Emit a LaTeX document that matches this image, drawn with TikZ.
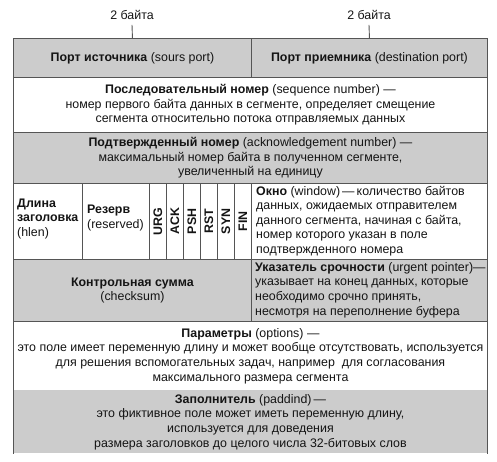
\documentclass[tikz,border=0pt]{standalone}
\usepackage{fontspec}
\setmainfont{Liberation Sans}
\definecolor{cellgray}{RGB}{204,204,204}
\definecolor{rule}{RGB}{85,85,85}
\definecolor{ink}{RGB}{20,20,20}
\begin{document}
\begin{tikzpicture}[x=1pt,y=-1pt,
  txt/.style={font=\fontsize{12.4}{14.6}\selectfont, text=ink},
  cell/.style={txt, draw=rule, line width=0.9pt, anchor=north west, inner sep=0pt, align=center},
  shaded/.style={fill=cellgray},
  lefttxt/.style={txt, anchor=west, align=left, inner sep=0pt},
  flagtxt/.style={txt, font=\fontsize{12.4}{14.6}\selectfont\bfseries, rotate=90, inner sep=0pt},
  byteslbl/.style={txt, inner sep=0pt}
]
\useasboundingbox (0,0) rectangle (497,462);

% row 1: ports
\node[cell, shaded, minimum width=238, minimum height=39] (src) at (13,38)
  {\textbf{Порт источника} (sours port)};
\node[cell, shaded, minimum width=236, minimum height=39] (dst) at (251,38)
  {\textbf{Порт приемника} (destination port)};

% row 2: sequence number
\node[cell, minimum width=474, minimum height=55] (seq) at (13,77)
  {\textbf{Последовательный номер} (sequence number) —\\
   номер первого байта данных в сегменте, определяет смещение\\
   сегмента относительно потока отправляемых данных};

% row 3: acknowledgement number
\node[cell, shaded, minimum width=474, minimum height=51] (ack) at (13,132)
  {\textbf{Подтвержденный номер} (acknowledgement number) —\\
   максимальный номер байта в полученном сегменте,\\
   увеличенный на единицу};

% row 4: header length, reserved bits, flags, window
\node[cell, minimum width=69, minimum height=76] (hlen) at (13,183) {};
\node[lefttxt] (hlentxt) at (17,219)
  {\textbf{Длина}\\ \textbf{заголовка}\\ (hlen)};
\node[cell, minimum width=67, minimum height=76] (resv) at (82,183) {};
\node[lefttxt] (resvtxt) at (87,218)
  {\textbf{Резерв}\\ (reserved)};
\foreach \f [count=\i from 0] in {URG,ACK,PSH,RST,SYN,FIN}{
  \node[cell, minimum width=17, minimum height=76] (flag\i) at ({149+17*\i},183) {};
  \node[flagtxt] (flagtxt\i) at (flag\i.center) {\f};
}
\node[cell, minimum width=236, minimum height=76] (win) at (251,183) {};
\node[lefttxt] (wintxt) at (256,221)
  {\textbf{Окно} (window)\,—\,количество байтов\\
   данных, ожидаемых отправителем\\
   данного сегмента, начиная с байта,\\
   номер которого указан в поле\\
   подтвержденного номера};

% row 5: checksum and urgent pointer
\node[cell, shaded, minimum width=238, minimum height=62] (csum) at (13,259)
  {\textbf{Контрольная сумма}\\ (checksum)};
\node[cell, shaded, minimum width=236, minimum height=62] (urg) at (251,259) {};
\node[lefttxt] (urgtxt) at (255,290)
  {\textbf{Указатель срочности} (urgent pointer)—\\
   указывает на конец данных, которые\\
   необходимо срочно принять,\\
   несмотря на переполнение буфера};

% row 6: options
\node[cell, minimum width=474, minimum height=69] (opt) at (13,321)
  {\textbf{Параметры} (options) —\\
   это поле имеет переменную длину и может вообще отсутствовать, используется\\
   для решения вспомогательных задач, например\ \ для согласования\\
   максимального размера сегмента};

% row 7: padding (open at the bottom)
\node[cell, shaded, draw=none, minimum width=474, minimum height=63] (pad) at (13,390)
  {\textbf{Заполнитель} (paddind)\,—\\
   это фиктивное поле может иметь переменную длину,\\
   используется для доведения\\
   размера заголовков до целого числа 32-битовых слов};
\draw[rule, line width=0.9pt] (pad.north west) -- (pad.south west);
\draw[rule, line width=0.9pt] (pad.north east) -- (pad.south east);

% field widths above the ports
\node[byteslbl] (bytesA) at (132,15) {2 байта};
\node[byteslbl] (bytesB) at (369,15) {2 байта};
\draw[rule, line width=0.9pt] ([yshift=-5pt]bytesA.south) -- (src.north);
\draw[rule, line width=0.9pt] ([yshift=-5pt]bytesB.south) -- (dst.north);
\end{tikzpicture}
\end{document}
